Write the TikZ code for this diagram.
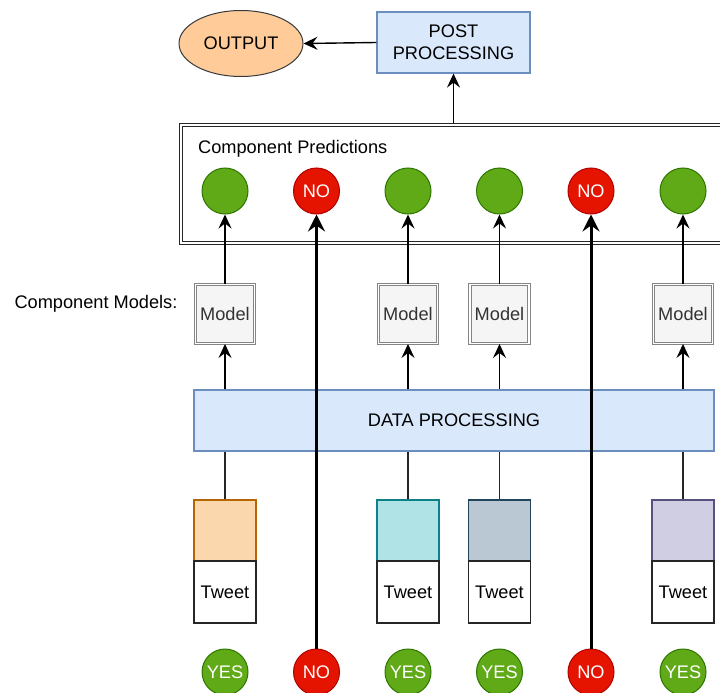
\documentclass[tikz,border=0pt]{standalone}
\usepackage{fontspec}
\setmainfont{Liberation Sans}
\usetikzlibrary{arrows.meta,shapes.geometric}
\definecolor{grfill}{HTML}{60A917}
\definecolor{grline}{HTML}{2D7600}
\definecolor{rdfill}{HTML}{E51400}
\definecolor{rdline}{HTML}{B20000}
\definecolor{bluefill}{HTML}{DAE8FC}
\definecolor{blueline}{HTML}{6C8EBF}
\definecolor{orfill}{HTML}{FFCC99}
\definecolor{orline}{HTML}{36393D}
\definecolor{c1fill}{HTML}{FAD7AC}
\definecolor{c1line}{HTML}{B46504}
\definecolor{c2fill}{HTML}{B0E3E6}
\definecolor{c2line}{HTML}{0E8088}
\definecolor{c3fill}{HTML}{BAC8D3}
\definecolor{c3line}{HTML}{23445D}
\definecolor{c4fill}{HTML}{D0CEE2}
\definecolor{c4line}{HTML}{56517E}
\definecolor{modfill}{HTML}{F5F5F5}
\definecolor{modline}{HTML}{666666}
\definecolor{modtext}{HTML}{333333}
\tikzset{
  lbl/.style={font=\fontsize{18.2}{22}\selectfont, inner sep=0pt},
  bluebox/.style={lbl, draw=blueline, fill=bluefill, line width=1.2pt, align=center},
  yescirc/.style={lbl, circle, draw=grline, fill=grfill, line width=1pt, minimum size=46pt, text=white},
  nocirc/.style={lbl, circle, draw=rdline, fill=rdfill, line width=1pt, minimum size=46pt, text=white},
  modelbox/.style={lbl, draw=modline!80, double=white, double distance=1.8pt, line width=0.9pt, fill=modfill, text=modtext, minimum width=59pt, minimum height=59pt},
  colbox/.style={lbl, line width=1.2pt, minimum width=62pt, minimum height=61pt},
  tweetbox/.style={lbl, draw=black!85, line width=1.2pt, fill=white, minimum width=62pt, minimum height=62pt},
  framebox/.style={draw=black!85, line width=1.1pt},
  thinarr/.style={line width=1.4pt, arrows={-Stealth[length=14pt,width=13pt,inset=5pt]}},
  thickarr/.style={line width=3pt, arrows={-Stealth[length=17pt,width=17pt,inset=6pt]}},
  plainline/.style={line width=1.4pt, draw=black!85}
}
\begin{document}
\begin{tikzpicture}[x=1pt,y=-1pt]
\useasboundingbox (0,0) rectangle (720,693);
\clip (0,0) rectangle (720,693);

% top
\node[lbl, ellipse, draw=orline, fill=orfill, line width=1pt, minimum width=124pt, minimum height=66pt] (out) at (241,43.5) {OUTPUT};
\node[bluebox, minimum width=153pt, minimum height=61pt] (post) at (453.5,42.5) {POST\\PROCESSING};

% component predictions container (double frame)
\node[framebox, minimum width=548pt, minimum height=121pt, inner sep=0pt] (comp) at (453.5,184) {};
\draw[framebox] ([shift={(3.5,3.5)}]comp.north west) rectangle ([shift={(-3.5,-3.5)}]comp.south east);
\node[lbl, anchor=west] (comptitle) at (198,148.5) {Component Predictions};

\node[yescirc] (p1) at (225,191) {};
\node[nocirc]  (p2) at (316.5,191) {NO};
\node[yescirc] (p3) at (408,191) {};
\node[yescirc] (p4) at (499.5,191) {};
\node[nocirc]  (p5) at (591,191) {NO};
\node[yescirc] (p6) at (683,191) {};

% models
\node[lbl] (cmlabel) at (96,304) {Component Models:};
\node[modelbox] (m1) at (225,314) {Model};
\node[modelbox] (m3) at (408,314) {Model};
\node[modelbox] (m4) at (499.5,314) {Model};
\node[modelbox] (m6) at (683,314) {Model};

% data processing
\node[bluebox, minimum width=520pt, minimum height=61pt] (dp) at (454,420.5) {DATA PROCESSING};

% tweets
\node[colbox, draw=c1line, fill=c1fill] (c1) at (225,530.5) {};
\node[colbox, draw=c2line, fill=c2fill] (c3) at (408,530.5) {};
\node[colbox, draw=c3line, fill=c3fill] (c4) at (499.5,530.5) {};
\node[colbox, draw=c4line, fill=c4fill] (c6) at (683,530.5) {};
\node[tweetbox] (t1) at (225,592) {Tweet};
\node[tweetbox] (t3) at (408,592) {Tweet};
\node[tweetbox] (t4) at (499.5,592) {Tweet};
\node[tweetbox] (t6) at (683,592) {Tweet};

% bottom labels
\node[yescirc] (b1) at (225,672) {YES};
\node[nocirc]  (b2) at (316.5,672) {NO};
\node[yescirc] (b3) at (408,672) {YES};
\node[yescirc] (b4) at (499.5,672) {YES};
\node[nocirc]  (b5) at (591,672) {NO};
\node[yescirc] (b6) at (683,672) {YES};

% connectors
\draw[thinarr] (post.west) -- (out.east);
\draw[thinarr] (comp.north -| post.south) -- (post.south);

\foreach \i in {1,3,4,6} {
  \draw[thinarr] (m\i.north) -- (p\i.south);
  \draw[thinarr] (dp.north -| m\i.south) -- (m\i.south);
  \draw[plainline] (c\i.north) -- (dp.south -| c\i.north);
}
\draw[thickarr] (b2.north) -- (p2.south);
\draw[thickarr] (b5.north) -- (p5.south);
\end{tikzpicture}
\end{document}
